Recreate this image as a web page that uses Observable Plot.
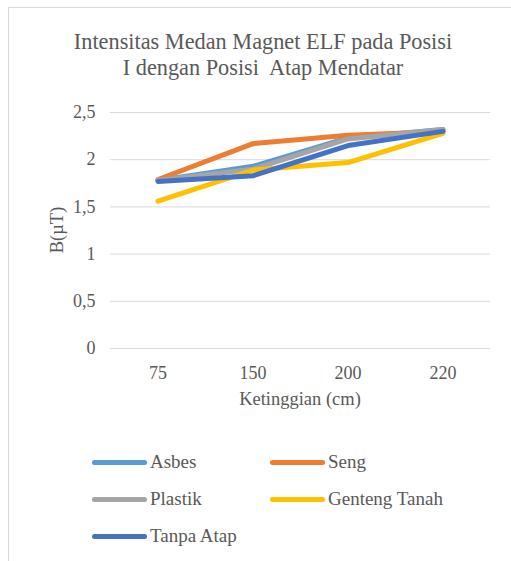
<!DOCTYPE html>
<html><head><meta charset="utf-8">
<script src="https://cdn.jsdelivr.net/npm/d3@7"></script>
<script src="https://cdn.jsdelivr.net/npm/@observablehq/plot@0.6"></script>
<style>
body{margin:0;background:#fff;font-family:"Liberation Serif",serif;color:#595959;}
#wrap{position:relative;width:511px;height:561px;overflow:hidden;font-family:"Liberation Serif",serif;}
#frame{position:absolute;left:8px;top:7px;width:520px;height:570px;border:1px solid #d9d9d9;box-sizing:border-box;}
#title{position:absolute;left:8px;width:510px;top:29px;text-align:center;font-size:22.3px;line-height:26px;color:#595959;}
#chart{position:absolute;left:0;top:95px;}
#chart svg, #chart svg text{font-family:"Liberation Serif",serif !important;}
.lbl{position:absolute;font-size:18.5px;line-height:21px;color:#595959;white-space:nowrap;font-weight:normal;}
.leg{position:absolute;font-size:19px;line-height:22px;color:#595959;display:flex;align-items:center;font-weight:normal;font-family:"Liberation Serif",serif;}
.sw{width:55px;height:5px;border-radius:3px;margin-right:3px;}
</style></head>
<body><div id="wrap"><div id="frame"></div>
<div id="title">Intensitas Medan Magnet ELF pada Posisi<br>I dengan Posisi&nbsp; Atap Mendatar</div>
<div id="chart"></div>
<div class="lbl" id="xlab" style="left:300px;top:389px;transform:translateX(-50%);">Ketinggian (cm)</div>
<div class="lbl" id="ylab" style="left:57px;top:230px;transform:translate(-50%,-50%) rotate(-90deg);">B(µT)</div>
<div id="legend"></div></div>
<script>
const heights = ["75","150","200","220"];
const seriesNames = ["Asbes","Seng","Plastik","Genteng Tanah","Tanpa Atap"];
const seriesColors = ["#5B9BD5","#ED7D31","#A5A5A5","#FFC000","#4472C4"];
const asbes = [1.78, 1.93, 2.23, 2.32];
const seng = [1.79, 2.17, 2.26, 2.30];
const plastik = [1.78, 1.90, 2.22, 2.32];
const gentengTanah = [1.56, 1.89, 1.97, 2.28];
const tanpaAtap = [1.77, 1.83, 2.15, 2.30];
const yTicks = [0, 0.5, 1, 1.5, 2, 2.5];
const yTickLabels = ["0","0,5","1","1,5","2","2,5"];

const all = [asbes, seng, plastik, gentengTanah, tanpaAtap];
const data = [];
all.forEach((vals, i) => vals.forEach((v, j) => data.push({series: seriesNames[i], h: heights[j], v})));

const chart = Plot.plot({
  width: 511, height: 330,
  marginLeft: 110, marginRight: 21, marginTop: 17, marginBottom: 77,
  style: {fontFamily: "Liberation Serif, serif", fontSize: "18px", color: "#595959", background: "transparent"},
  x: {type: "band", domain: heights, padding: 0, label: null},
  y: {domain: [0, 2.5], ticks: yTicks, label: null},
  color: {domain: seriesNames, range: seriesColors},
  marks: [
    Plot.gridY(yTicks, {stroke: "#d9d9d9", strokeOpacity: 1}),
    Plot.axisY(yTicks, {tickSize: 0, tickPadding: 15, tickFormat: (d) => yTickLabels[yTicks.indexOf(d)], fontSize: 18, label: null}),
    Plot.axisX({tickSize: 0, tickPadding: 18, fontSize: 18, label: null}),
    Plot.line(data, {x: "h", y: "v", z: "series", stroke: "series", strokeWidth: 5, strokeLinejoin: "round", strokeLinecap: "round"})
  ]
});
document.getElementById("chart").appendChild(chart);

const legPos = [[92,462],[270,462],[92,499],[270,499],[92,536]];
const leg = document.getElementById("legend");
seriesNames.forEach((n, i) => {
  const d = document.createElement("div");
  d.className = "leg";
  d.style.left = legPos[i][0] + "px";
  d.style.top = (legPos[i][1] - 11) + "px";
  d.innerHTML = `<div class="sw" style="background:${seriesColors[i]}"></div><span>${n}</span>`;
  leg.appendChild(d);
});
</script></body></html>
